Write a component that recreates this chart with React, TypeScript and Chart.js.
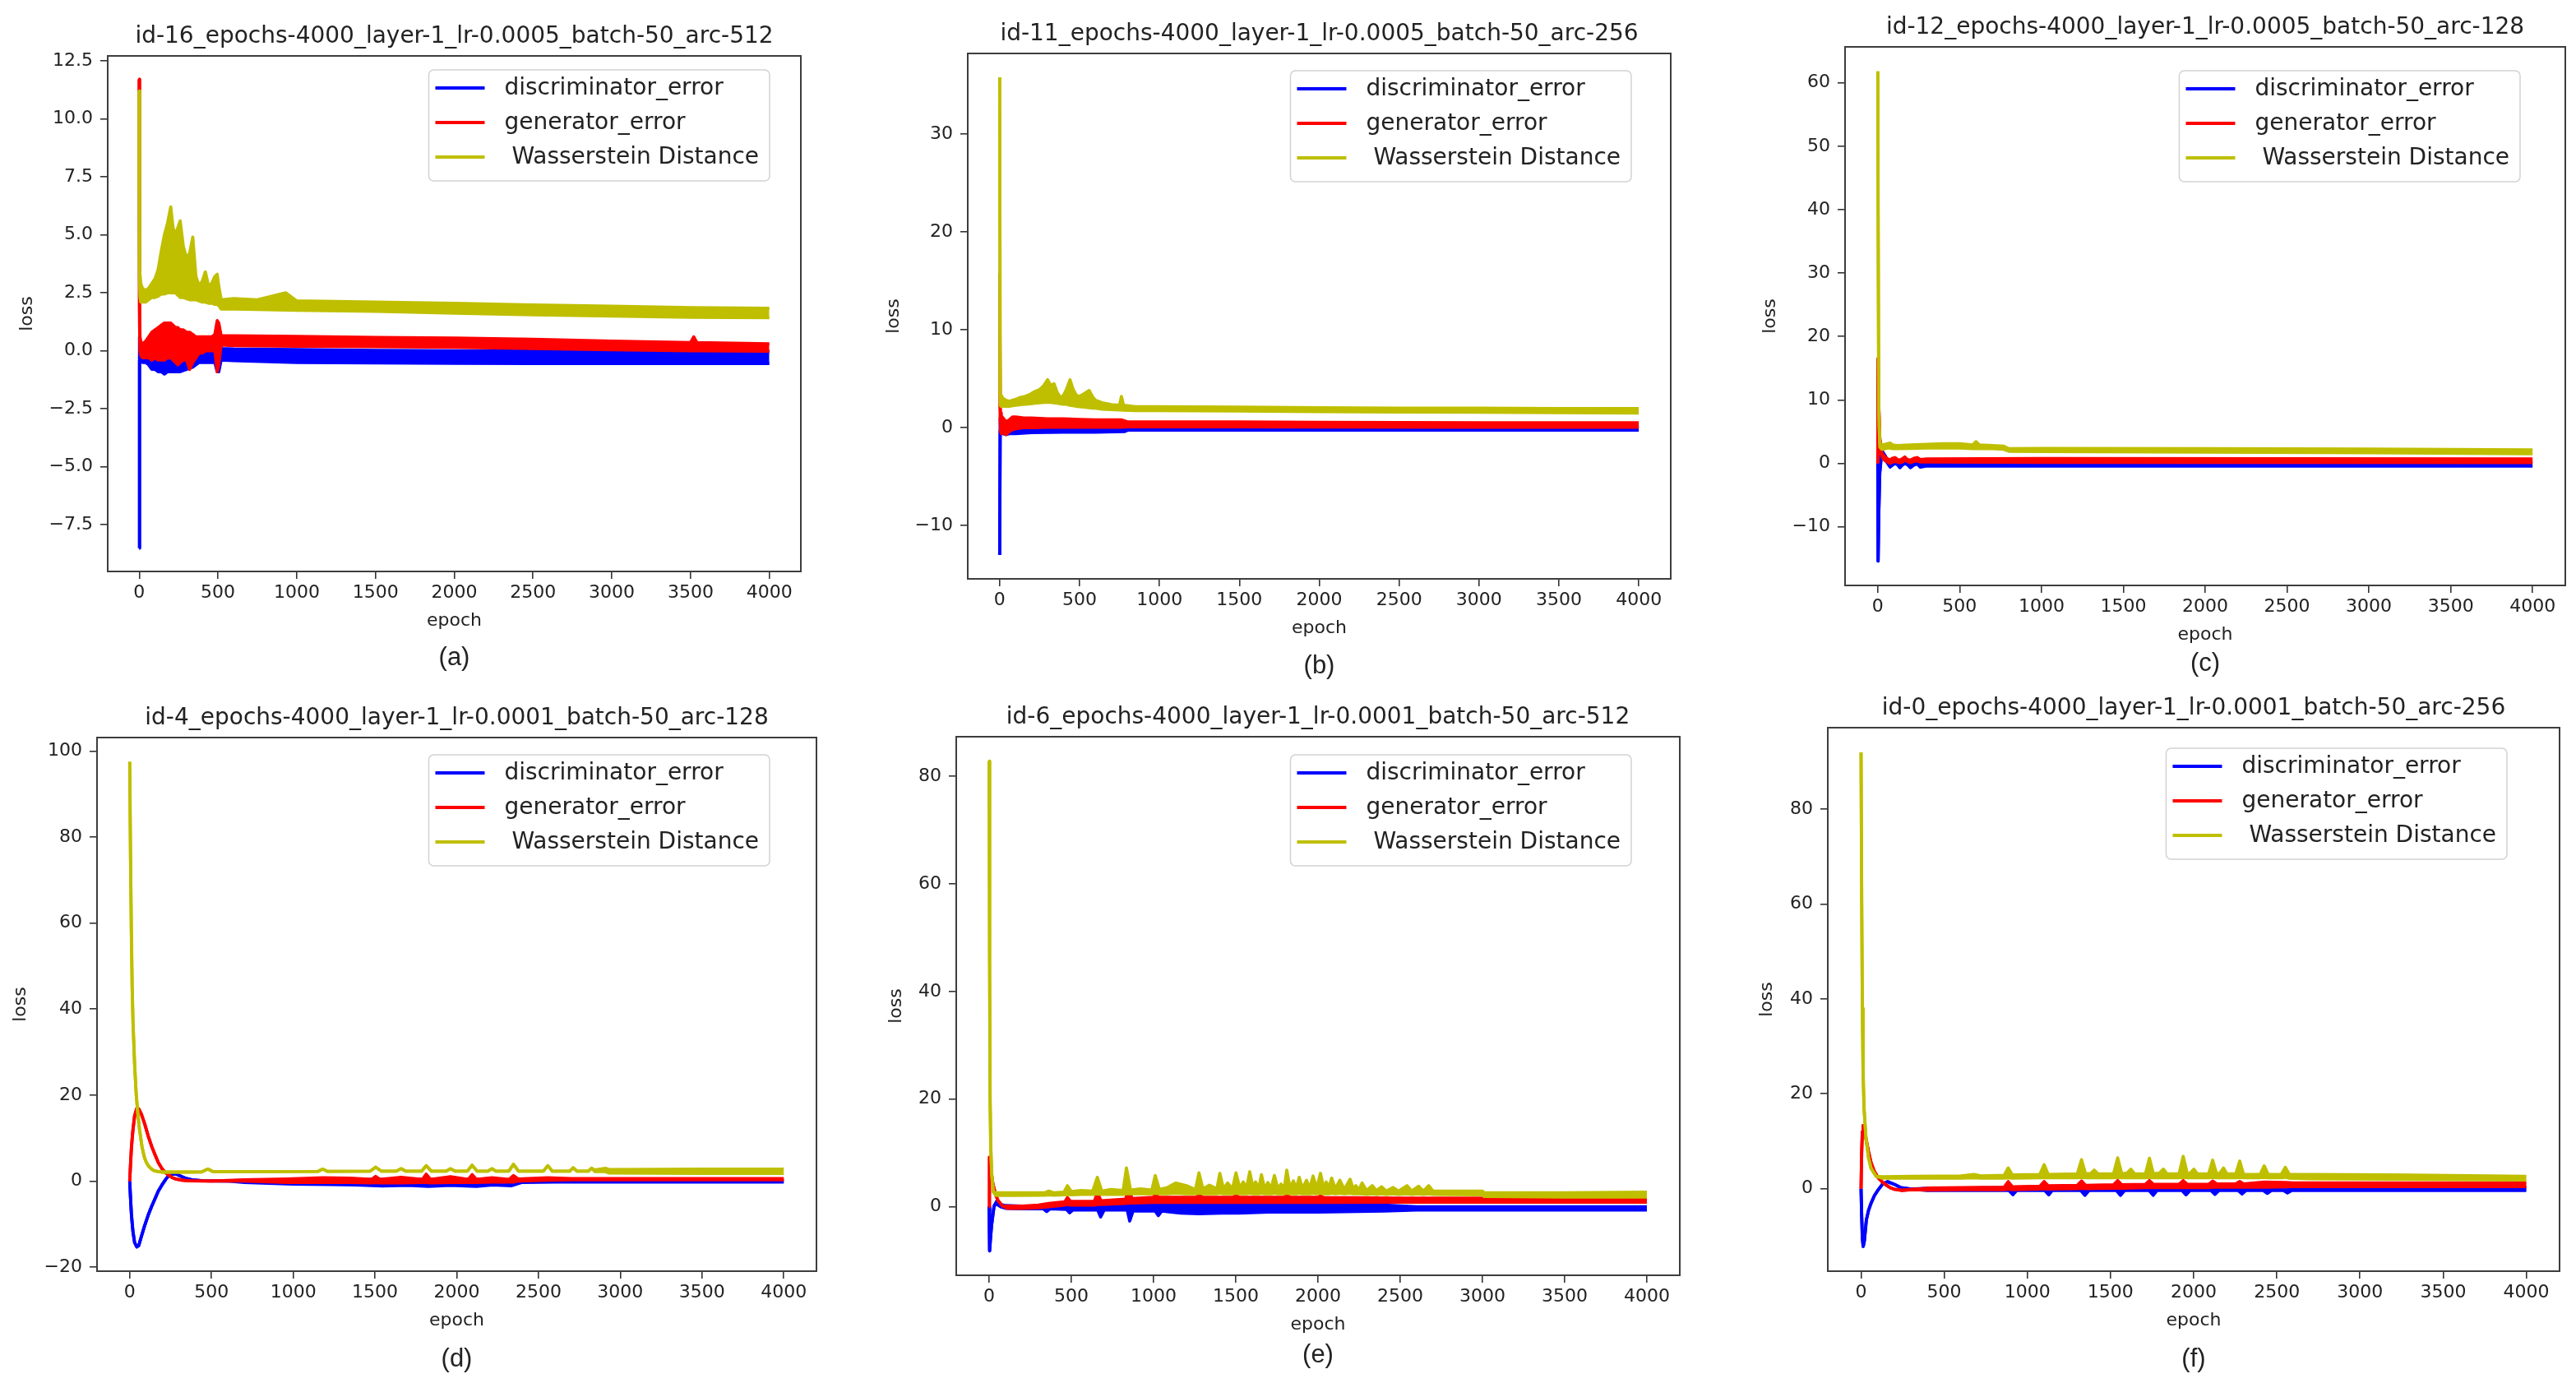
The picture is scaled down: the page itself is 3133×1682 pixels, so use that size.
import React, { useEffect, useRef } from "react";
import { Chart, registerables } from "chart.js";

Chart.register(...registerables);

// A sample is [epoch, value] on a clean stretch of a curve, or
// [epoch, low, high] where epoch-to-epoch noise spreads the curve into a band.
type Sample = number[];

const epochTicks = [0, 500, 1000, 1500, 2000, 2500, 3000, 3500, 4000];

const lossTicksA = [-7.5, -5, -2.5, 0, 2.5, 5, 7.5, 10, 12.5];
const lossTicksB = [-10, 0, 10, 20, 30];
const lossTicksC = [-10, 0, 10, 20, 30, 40, 50, 60];
const lossTicksD = [-20, 0, 20, 40, 60, 80, 100];
const lossTicksE = [0, 20, 40, 60, 80];
const lossTicksF = [0, 20, 40, 60, 80];

const seriesLabels = ["discriminator_error", "generator_error", " Wasserstein Distance"];

// ---- run id-16 (lr 0.0005, arc 512) ----
const discA: Sample[] = [
  [0, -8.5], [2, -0.4, 0.6], [5, -0.4, 0.4], [10, -0.4, 0.3], [20, -0.5, 0.2], [40, -0.5, 0.1],
  [60, -0.6, 0.2], [80, -0.8, 0.2], [100, -0.8, 0.3], [120, -0.9, 0.3], [140, -0.9, 0.4],
  [160, -1.0, 0.4], [180, -0.9, 0.5], [200, -0.9, 0.5], [230, -0.9, 0.4], [260, -0.9, 0.3],
  [300, -0.8, 0.3], [340, -0.7, 0.2], [380, -0.5, 0.15], [420, -0.5, 0.1], [480, -0.5, 0.2],
  [495, -0.9, 1.1], [505, -0.9, 0.8], [520, -0.4, 0.1], [600, -0.42, 0.08], [1000, -0.5, 0.05],
  [1500, -0.52, 0.02], [2000, -0.54, 0.0], [2500, -0.55, -0.01], [3000, -0.55, -0.01],
  [3500, -0.55, -0.02], [4000, -0.55, -0.03],
];
const genA: Sample[] = [
  [0, 11.7], [2, 1.2, 1.9], [5, 0.0, 0.6], [10, -0.2, 0.4], [20, -0.3, 0.3], [40, -0.3, 0.4],
  [60, -0.3, 0.6], [80, -0.4, 0.8], [100, -0.3, 0.9], [120, -0.4, 1.0], [140, -0.4, 1.1],
  [160, -0.4, 1.2], [180, -0.3, 1.2], [200, -0.3, 1.2], [215, -0.4, 1.1], [230, -0.5, 1.0],
  [245, -0.6, 1.0], [260, -0.5, 0.9], [280, -0.4, 0.9], [300, -0.4, 0.8], [320, -0.8, 0.8],
  [340, -0.5, 0.7], [360, -0.3, 0.6], [380, -0.1, 0.6], [400, -0.1, 0.6], [420, 0.0, 0.6],
  [460, 0.0, 0.6], [480, 0.0, 0.7], [495, -0.9, 1.3], [505, -0.6, 1.2], [520, 0.25, 0.65],
  [600, 0.22, 0.65], [1000, 0.2, 0.62], [1500, 0.18, 0.58], [2000, 0.15, 0.55], [2500, 0.1, 0.5],
  [3000, 0.05, 0.42], [3500, 0.0, 0.35], [3520, 0.0, 0.6], [3540, 0.0, 0.35], [4000, -0.02, 0.3],
];
const wassA: Sample[] = [
  [0, 11.2], [2, 3.0, 3.4], [5, 2.3, 3.3], [10, 2.1, 2.9], [20, 2.1, 2.7], [40, 2.1, 2.6],
  [60, 2.2, 2.7], [80, 2.3, 2.9], [100, 2.3, 3.1], [120, 2.35, 3.5], [140, 2.45, 4.3],
  [160, 2.45, 5.0], [180, 2.5, 5.5], [200, 2.5, 6.2], [215, 2.5, 5.3], [230, 2.5, 5.0],
  [245, 2.4, 5.3], [260, 2.3, 5.6], [280, 2.3, 4.5], [300, 2.25, 4.0], [320, 2.2, 4.2],
  [340, 2.2, 4.9], [360, 2.2, 3.2], [380, 2.15, 2.8], [400, 2.1, 3.0], [420, 2.1, 3.4],
  [440, 2.05, 2.8], [460, 2.05, 2.9], [480, 2.0, 3.2], [495, 2.0, 3.3], [505, 1.95, 2.8],
  [520, 1.8, 2.2], [600, 1.8, 2.25], [750, 1.78, 2.2], [930, 1.76, 2.5], [1000, 1.75, 2.15],
  [1500, 1.7, 2.1], [2000, 1.62, 2.05], [2500, 1.55, 1.98], [3000, 1.5, 1.92], [3500, 1.45, 1.86],
  [4000, 1.43, 1.83],
];

// ---- run id-11 (lr 0.0005, arc 256) ----
const discB: Sample[] = [
  [0, -13.0], [3, -0.3, 1.0], [6, -0.6, 0.9], [10, -0.6, 0.7], [20, -0.6, 0.5], [40, -0.7, 0.3],
  [60, -0.6, 0.2], [100, -0.6, 0.2], [200, -0.5, 0.2], [400, -0.45, 0.2], [600, -0.45, 0.2],
  [780, -0.4, 0.2], [800, -0.25, 0.15], [2000, -0.25, 0.12], [4000, -0.25, 0.1],
];
const genB: Sample[] = [
  [0, 15.7], [3, 0.8, 2.0], [6, -0.4, 1.5], [10, -0.6, 1.2], [20, -0.5, 1.0], [40, -0.7, 0.6],
  [60, -0.4, 0.8], [80, -0.2, 1.1], [100, -0.1, 1.1], [150, 0.0, 1.0], [200, 0.0, 1.0],
  [300, 0.05, 0.9], [400, 0.05, 0.9], [500, 0.05, 0.85], [600, 0.05, 0.8], [760, 0.05, 0.8],
  [800, 0.1, 0.6], [1500, 0.1, 0.6], [2000, 0.08, 0.55], [3000, 0.05, 0.5], [4000, 0.05, 0.5],
];
const wassB: Sample[] = [
  [0, 35.8], [3, 2.5, 3.5], [6, 2.2, 3.0], [10, 2.2, 3.3], [20, 2.2, 3.0], [40, 2.2, 2.8],
  [60, 2.2, 2.7], [80, 2.25, 2.8], [100, 2.3, 2.9], [130, 2.35, 3.1], [160, 2.4, 3.2],
  [190, 2.45, 3.4], [220, 2.5, 3.7], [250, 2.55, 3.9], [275, 2.6, 4.3], [300, 2.6, 4.9],
  [320, 2.6, 4.3], [340, 2.55, 4.5], [360, 2.5, 3.6], [380, 2.45, 3.1], [400, 2.4, 3.3],
  [420, 2.4, 4.0], [440, 2.3, 4.9], [460, 2.25, 3.9], [480, 2.2, 3.3], [500, 2.15, 3.2],
  [530, 2.1, 3.5], [560, 2.05, 3.8], [580, 2.0, 3.2], [600, 2.0, 2.8], [640, 1.9, 2.55],
  [700, 1.85, 2.35], [750, 1.82, 2.3], [762, 1.82, 3.2], [775, 1.8, 2.3], [850, 1.75, 2.15],
  [1000, 1.75, 2.15], [1500, 1.7, 2.1], [2000, 1.65, 2.05], [2500, 1.6, 2.0], [3000, 1.58, 2.0],
  [3500, 1.55, 1.95], [4000, 1.5, 1.95],
];

// ---- run id-12 (lr 0.0005, arc 128) ----
const discC: Sample[] = [
  [0, 0], [2, -15.4], [6, -8], [12, -1.5], [20, 0.5, 1.2], [30, 1.2, 1.8], [45, 0.6, 1.2],
  [60, 0.0, 0.4], [75, -0.6, -0.1], [90, -0.3, 0.3], [105, 0.0, 0.3], [120, -0.2, 0.2],
  [135, -0.7, -0.1], [150, -0.3, 0.2], [165, 0.0, 0.3], [180, -0.2, 0.1], [200, -0.7, -0.1],
  [220, -0.3, 0.2], [240, -0.1, 0.2], [260, -0.6, 0.0], [300, -0.4, 0.1], [1000, -0.45, 0.2],
  [4000, -0.45, 0.2],
];
const genC: Sample[] = [
  [0, 0], [2, 16.5], [6, 9], [12, 4], [20, 1.5, 2.0], [30, 0.8, 1.4], [45, 0.4, 1.0],
  [60, 0.2, 0.7], [75, 0.0, 0.5], [90, 0.2, 0.8], [105, 0.3, 0.9], [120, 0.2, 0.6],
  [135, 0.1, 0.5], [150, 0.2, 0.7], [165, 0.5, 1.0], [180, 0.3, 0.6], [200, 0.1, 0.5],
  [220, 0.3, 0.8], [240, 0.4, 0.9], [260, 0.2, 0.6], [300, 0.2, 0.7], [1000, 0.15, 0.75],
  [4000, 0.1, 0.7],
];
const wassC: Sample[] = [
  [0, 61.8], [2, 40], [6, 8], [12, 2.6, 3.2], [20, 2.3, 3.0], [30, 2.2, 2.9], [45, 2.3, 3.0],
  [60, 2.4, 3.1], [75, 2.4, 3.2], [90, 2.3, 2.9], [120, 2.3, 2.8], [200, 2.35, 2.9],
  [300, 2.4, 3.0], [400, 2.4, 3.1], [500, 2.4, 3.1], [580, 2.3, 2.9], [600, 2.3, 3.4],
  [620, 2.3, 2.9], [700, 2.3, 2.8], [770, 2.2, 2.7], [800, 1.9, 2.3], [1000, 1.85, 2.35],
  [2000, 1.75, 2.3], [3000, 1.65, 2.25], [4000, 1.5, 2.1],
];

// ---- run id-4 (lr 0.0001, arc 128) ----
const discD: Sample[] = [
  [0, 0], [5, -4], [10, -7.5], [15, -9.8], [20, -11.8], [30, -14.3], [43, -15.3], [55, -15],
  [71, -12.9], [90, -10.5], [113, -7.9], [135, -5.8], [155, -4.05], [175, -2.3], [197, -0.9],
  [220, 0.4], [240, 1.35], [260, 1.65], [282, 1.66], [310, 1.2], [338, 0.7], [380, 0.3],
  [450, 0.08], [600, 0.0], [700, -0.3, 0.2], [1000, -0.7, 0.3], [1223, -0.8, 0.4],
  [1380, -0.9, 0.4], [1546, -1.1, 0.4], [1700, -1.0, 0.4], [1827, -1.2, 0.4], [1962, -1.0, 0.4],
  [2120, -1.2, 0.4], [2220, -0.9, 0.3], [2333, -1.1, 0.3], [2400, -0.3, 0.2], [2600, -0.2, 0.1],
  [4000, -0.2, 0.1],
];
const genD: Sample[] = [
  [0, 0], [5, 4], [10, 7.5], [15, 9.9], [20, 12], [30, 15.2], [43, 16.9], [55, 16.8],
  [71, 15.6], [90, 13.5], [113, 10.5], [135, 8], [155, 6.1], [175, 4.3], [197, 2.9], [220, 1.9],
  [240, 1.35], [260, 0.8], [282, 0.5], [320, 0.2], [366, 0.05], [500, 0.0], [700, 0.0, 0.3],
  [960, -0.3, 0.5], [1181, -0.3, 0.8], [1350, -0.3, 0.7], [1480, -0.4, 0.4], [1504, -0.3, 1.1],
  [1530, -0.4, 0.4], [1659, -0.4, 0.9], [1790, -0.3, 0.4], [1813, -0.3, 1.6], [1840, -0.4, 0.4],
  [1962, -0.3, 1.0], [2070, -0.3, 0.4], [2094, -0.3, 1.5], [2120, -0.3, 0.4], [2215, -0.2, 0.8],
  [2320, -0.2, 0.4], [2347, -0.2, 1.3], [2375, 0.0, 0.5], [2557, 0.2, 0.8], [2700, 0.3, 0.6],
  [4000, 0.3, 0.6],
];
const wassD: Sample[] = [
  [0, 97.5], [5, 75], [10, 58], [15, 45], [20, 37], [30, 27], [40, 20], [50, 15.5], [60, 12],
  [75, 8], [90, 5.5], [100, 4.5], [115, 3.5], [130, 2.9], [150, 2.4], [175, 2.2], [200, 2.1],
  [300, 2.1], [440, 2.15], [478, 2.8], [510, 2.2], [800, 2.2], [1150, 2.25], [1181, 2.8],
  [1210, 2.25], [1470, 2.3], [1504, 3.25], [1540, 2.3], [1630, 2.3], [1659, 2.9], [1690, 2.3],
  [1785, 2.3], [1813, 3.6], [1845, 2.3], [1935, 2.3], [1962, 2.9], [1990, 2.3], [2065, 2.3],
  [2094, 3.7], [2125, 2.3], [2190, 2.3], [2215, 2.9], [2240, 2.3], [2318, 2.3], [2347, 3.9],
  [2378, 2.3], [2530, 2.3], [2557, 3.6], [2585, 2.3], [2690, 2.3], [2712, 3.1], [2735, 2.3],
  [2805, 2.3], [2824, 3.0], [2845, 2.2, 2.6], [2909, 2.2, 3.0], [2930, 1.9, 2.7],
  [3500, 1.8, 2.8], [4000, 1.8, 2.8],
];

// ---- run id-6 (lr 0.0001, arc 512) ----
const discE: Sample[] = [
  [0, 0], [3, -8.2], [8, -6], [15, -3.4], [30, 0.13], [45, 0.5, 1.0], [70, 0.0, 0.4],
  [100, -0.3, 0.2], [200, -0.4, 0.1], [330, -0.4, 0.1], [350, -0.9, 0.1], [370, -0.4, 0.2],
  [470, -0.5, 0.3], [489, -1.14, 0.3], [510, -0.6, 0.4], [660, -0.6, 0.6], [678, -1.9, 0.5],
  [700, -0.6, 0.6], [840, -0.6, 0.8], [855, -2.66, 0.8], [875, -0.8, 0.9], [1010, -0.8, 0.8],
  [1029, -1.65, 0.8], [1050, -0.8, 0.8], [1164, -1.2, 0.7], [1276, -1.3, 0.7], [1417, -1.2, 0.7],
  [1515, -1.2, 0.7], [1700, -1.0, 0.6], [2000, -1.0, 0.5], [2400, -0.8, 0.3], [2600, -0.63, 0.0],
  [4000, -0.63, 0.0],
];
const genE: Sample[] = [
  [0, 0], [2, 9.2], [10, 7], [23, 4.2], [40, 2.2], [54, 1.14], [82, 0.13], [110, -0.3, 0.1],
  [200, -0.3, 0.1], [300, -0.2, 0.3], [363, 0.0, 0.6], [460, 0.3, 0.9], [476, 0.4, 1.7],
  [495, 0.3, 1.0], [640, 0.3, 1.0], [658, 0.4, 2.66], [680, 0.4, 1.1], [830, 0.6, 1.4],
  [846, 0.7, 3.4], [870, 0.7, 1.5], [1000, 0.8, 1.75], [1010, 0.8, 2.4], [1030, 0.8, 1.75],
  [1260, 0.8, 1.75], [1276, 0.8, 2.2], [1300, 0.8, 1.75], [1485, 0.8, 1.75], [1501, 0.8, 2.2],
  [1520, 0.8, 1.75], [1795, 0.8, 1.75], [1810, 0.8, 2.2], [1830, 0.8, 1.75], [2000, 0.8, 1.75],
  [2015, 0.8, 2.0], [2035, 0.8, 1.7], [2500, 0.84, 1.6], [4000, 0.84, 1.55],
];
const wassE: Sample[] = [
  [0, 82.8], [3, 45], [6, 20], [10, 11], [16, 6], [25, 2.8], [40, 2.1, 2.6], [150, 2.1, 2.6],
  [340, 2.15, 2.6], [363, 2.2, 2.9], [390, 2.15, 2.6], [455, 2.2, 2.7], [476, 2.3, 3.9],
  [500, 2.2, 2.8], [560, 2.3, 3.0], [630, 2.3, 2.9], [658, 2.4, 5.45], [685, 2.3, 2.9],
  [740, 2.3, 3.2], [815, 2.3, 3.0], [835, 2.4, 7.2], [860, 2.4, 3.1], [920, 2.4, 3.3],
  [990, 2.4, 3.1], [1010, 2.5, 5.8], [1035, 2.4, 3.2], [1080, 2.4, 3.5], [1136, 2.5, 4.4],
  [1200, 2.4, 3.9], [1255, 2.4, 3.2], [1276, 2.5, 6.3], [1300, 2.4, 3.3], [1340, 2.4, 4.0],
  [1385, 2.4, 3.3], [1403, 2.5, 6.2], [1425, 2.4, 3.3], [1450, 2.4, 4.4], [1480, 2.4, 3.3],
  [1501, 2.5, 6.3], [1525, 2.4, 3.4], [1545, 2.4, 4.6], [1565, 2.4, 3.4], [1585, 2.5, 6.5],
  [1605, 2.4, 3.4], [1620, 2.4, 4.6], [1640, 2.4, 3.4], [1656, 2.5, 5.95], [1675, 2.4, 3.4],
  [1695, 2.4, 4.5], [1715, 2.4, 3.4], [1735, 2.5, 5.8], [1755, 2.4, 3.4], [1775, 2.4, 4.2],
  [1795, 2.4, 3.4], [1810, 2.5, 6.8], [1830, 2.4, 3.4], [1850, 2.4, 4.8], [1868, 2.4, 3.4],
  [1886, 2.5, 5.45], [1905, 2.4, 3.4], [1930, 2.4, 4.9], [1950, 2.4, 3.4], [1970, 2.5, 5.7],
  [1992, 2.4, 3.4], [2015, 2.5, 6.2], [2035, 2.4, 3.4], [2050, 2.4, 4.6], [2065, 2.4, 3.4],
  [2083, 2.5, 5.3], [2105, 2.4, 3.3], [2133, 2.5, 4.9], [2160, 2.4, 3.2], [2195, 2.5, 5.1],
  [2215, 2.4, 3.2], [2230, 2.4, 3.9], [2248, 2.4, 3.1], [2268, 2.4, 4.4], [2295, 2.3, 3.0],
  [2330, 2.4, 3.9], [2355, 2.3, 3.0], [2387, 2.4, 3.7], [2415, 2.3, 2.9], [2457, 2.4, 3.57],
  [2490, 2.3, 2.9], [2541, 2.4, 3.9], [2570, 2.3, 2.9], [2611, 2.4, 3.8], [2640, 2.3, 2.9],
  [2673, 2.4, 3.9], [2700, 2.3, 2.9], [3000, 2.2, 2.9], [3010, 1.9, 2.6], [3500, 1.8, 2.6],
  [4000, 1.8, 2.7],
];

// ---- run id-0 (lr 0.0001, arc 256) ----
const discF: Sample[] = [
  [0, 0], [4, -6], [8, -10.5], [13, -12.2], [20, -11], [32, -6.6], [45, -4.6], [60, -3.1],
  [80, -1.5], [103, -0.25], [130, 1.0], [159, 1.47], [201, 0.9], [240, 0.2], [300, -0.1],
  [400, -0.4, 0.1], [600, -0.4, 0.1], [890, -0.4, 0.2], [913, -1.3, 0.2], [935, -0.4, 0.3],
  [1105, -0.4, 0.3], [1129, -1.3, 0.3], [1150, -0.4, 0.3], [1322, -0.4, 0.3], [1346, -1.4, 0.3],
  [1370, -0.4, 0.3], [1536, -0.4, 0.4], [1560, -1.4, 0.4], [1584, -0.4, 0.4], [1733, -0.4, 0.4],
  [1757, -1.4, 0.4], [1780, -0.4, 0.4], [1930, -0.4, 0.4], [1954, -1.3, 0.4], [1978, -0.4, 0.4],
  [2104, -0.4, 0.4], [2128, -1.2, 0.4], [2152, -0.4, 0.4], [2267, -0.4, 0.3], [2291, -1.1, 0.3],
  [2315, -0.4, 0.3], [2419, -0.4, 0.3], [2443, -1.0, 0.3], [2467, -0.4, 0.3], [2540, -0.4, 0.3],
  [2564, -0.9, 0.3], [2590, -0.4, 0.3], [4000, -0.4, 0.3],
];
const genF: Sample[] = [
  [0, 0], [4, 8], [8, 12], [12, 13.3], [20, 12.5], [32, 10.1], [45, 7.8], [60, 5.5], [80, 3.6],
  [103, 2.3], [125, 1.5], [145, 0.9], [175, 0.2], [201, -0.13], [243, -0.37], [300, -0.2],
  [400, -0.3, 0.1], [600, -0.2, 0.2], [860, -0.2, 0.3], [885, -0.1, 1.47], [910, -0.2, 0.4],
  [1075, -0.1, 0.5], [1101, 0.0, 1.5], [1125, -0.1, 0.6], [1300, 0.0, 0.7], [1326, 0.1, 1.6],
  [1350, 0.0, 0.7], [1518, 0.1, 0.8], [1543, 0.1, 1.7], [1568, 0.1, 0.8], [1710, 0.2, 0.9],
  [1734, 0.2, 1.7], [1758, 0.2, 0.9], [1912, 0.2, 0.9], [1937, 0.2, 1.7], [1962, 0.2, 0.9],
  [2090, 0.2, 0.9], [2114, 0.3, 1.6], [2138, 0.3, 1.0], [2253, 0.3, 1.0], [2277, 0.3, 1.5],
  [2300, 0.3, 1.0], [2424, 0.3, 1.4], [2551, 0.4, 1.3], [2600, 0.44, 1.2], [4000, 0.44, 1.2],
];
const wassF: Sample[] = [
  [0, 92], [4, 60], [8, 38], [12, 25], [18, 17], [30, 10.5], [45, 6.5], [60, 4.3], [90, 2.6],
  [130, 2.2, 2.5], [300, 2.2, 2.6], [600, 2.2, 2.7], [680, 2.3, 3.0], [720, 2.2, 2.7],
  [860, 2.2, 2.8], [885, 2.3, 4.35], [910, 2.2, 2.9], [1075, 2.3, 3.0], [1101, 2.3, 5.05],
  [1125, 2.3, 3.0], [1300, 2.3, 3.1], [1326, 2.4, 6.1], [1350, 2.3, 3.1], [1380, 2.3, 3.2],
  [1402, 2.3, 3.9], [1425, 2.3, 3.1], [1518, 2.3, 3.1], [1543, 2.4, 6.5], [1568, 2.3, 3.1],
  [1600, 2.3, 3.3], [1622, 2.3, 4.1], [1645, 2.3, 3.1], [1710, 2.3, 3.1], [1734, 2.4, 6.4],
  [1758, 2.3, 3.1], [1795, 2.3, 3.3], [1818, 2.3, 4.1], [1840, 2.3, 3.1], [1912, 2.3, 3.1],
  [1937, 2.4, 6.8], [1962, 2.3, 3.1], [1980, 2.3, 3.3], [2001, 2.3, 4.1], [2022, 2.3, 3.1],
  [2090, 2.3, 3.1], [2114, 2.4, 6.0], [2138, 2.3, 3.1], [2158, 2.3, 3.3], [2179, 2.3, 4.35],
  [2200, 2.3, 3.1], [2253, 2.3, 3.1], [2277, 2.4, 5.8], [2300, 2.3, 3.0], [2400, 2.3, 3.0],
  [2424, 2.4, 4.8], [2448, 2.3, 3.0], [2527, 2.3, 3.0], [2551, 2.4, 4.5], [2575, 2.2, 3.0],
  [2700, 2.1, 3.0], [3200, 2.0, 2.9], [4000, 1.8, 2.6],
];

interface PanelSpec {
  title: string;
  caption: string;
  box: [number, number, number, number]; // plot frame: left, top, right, bottom (page px)
  yTicks: number[];
  decimals: number;
  series: Sample[][]; // discriminator, generator, Wasserstein
  yAxisW: number;
  legendInset: [number, number];
  captionGap: number;
}

const panels: PanelSpec[] = [
  { title: "id-16_epochs-4000_layer-1_lr-0.0005_batch-50_arc-512", caption: "(a)", box: [131, 68, 974, 695], yTicks: lossTicksA, decimals: 1, series: [discA, genA, wassA], yAxisW: 111, legendInset: [38, 17], captionGap: 105 },
  { title: "id-11_epochs-4000_layer-1_lr-0.0005_batch-50_arc-256", caption: "(b)", box: [1177, 65, 2032, 704], yTicks: lossTicksB, decimals: 0, series: [discB, genB, wassB], yAxisW: 103, legendInset: [48, 21], captionGap: 106 },
  { title: "id-12_epochs-4000_layer-1_lr-0.0005_batch-50_arc-128", caption: "(c)", box: [2244, 57, 3120, 712], yTicks: lossTicksC, decimals: 0, series: [discC, genC, wassC], yAxisW: 104, legendInset: [55, 29], captionGap: 95 },
  { title: "id-4_epochs-4000_layer-1_lr-0.0001_batch-50_arc-128", caption: "(d)", box: [118, 897, 993, 1546], yTicks: lossTicksD, decimals: 0, series: [discD, genD, wassD], yAxisW: 106, legendInset: [57, 21], captionGap: 107 },
  { title: "id-6_epochs-4000_layer-1_lr-0.0001_batch-50_arc-512", caption: "(e)", box: [1163, 896, 2043, 1551], yTicks: lossTicksE, decimals: 0, series: [discE, genE, wassE], yAxisW: 86, legendInset: [59, 22], captionGap: 97 },
  { title: "id-0_epochs-4000_layer-1_lr-0.0001_batch-50_arc-256", caption: "(f)", box: [2223, 885, 3113, 1546], yTicks: lossTicksF, decimals: 0, series: [discF, genF, wassF], yAxisW: 87, legendInset: [64, 25], captionGap: 107 },
];

const LINE_COLORS = ["#0000ff", "#ff0000", "#bfbf00"];
const FONT = '"DejaVu Sans", sans-serif';
const TEXT = "#222222";
const TOP_SPACE = 70;
const RIGHT_SPACE = 12;
const X_AXIS_H = 73;
const BOTTOM_SPACE = 70;

function fmtLoss(v: number, decimals: number) {
  const s = Math.abs(v).toFixed(decimals);
  return v < 0 ? "\u2212" + s : s;
}

// Frame, legend box, panel title and caption, all placed relative to the plot area.
const panelDecor = {
  id: "panelDecor",
  afterDatasetsDraw(chart: any, _args: any, opts: any) {
    const { ctx, chartArea: a } = chart;
    ctx.save();
    ctx.strokeStyle = "#3d3d3d";
    ctx.lineWidth = 2;
    ctx.strokeRect(a.left, a.top, a.right - a.left, a.bottom - a.top);

    ctx.font = `28px ${FONT}`;
    const labels: string[] = opts.labels;
    const textW = Math.max(...labels.map((l) => ctx.measureText(l).width));
    const padL = 8, handle = 60, gap = 24, padR = 13, rowH = 42, padT = 22, padB = 29;
    const w = padL + handle + gap + textW + padR;
    const h = padT + rowH * (labels.length - 1) + padB;
    const x = a.right - opts.legendInset[0] - w;
    const y = a.top + opts.legendInset[1];
    ctx.beginPath();
    ctx.roundRect(x, y, w, h, 6);
    ctx.fillStyle = "rgba(255,255,255,0.85)";
    ctx.fill();
    ctx.strokeStyle = "#d2d2d2";
    ctx.lineWidth = 1.5;
    ctx.stroke();
    labels.forEach((label, i) => {
      const cy = y + padT + i * rowH;
      ctx.strokeStyle = opts.colors[i];
      ctx.lineWidth = 4;
      ctx.beginPath();
      ctx.moveTo(x + padL, cy);
      ctx.lineTo(x + padL + handle, cy);
      ctx.stroke();
      ctx.fillStyle = TEXT;
      ctx.textAlign = "left";
      ctx.textBaseline = "middle";
      ctx.fillText(label, x + padL + handle + gap, cy + 1);
    });

    const cx = (a.left + a.right) / 2;
    ctx.fillStyle = TEXT;
    ctx.textAlign = "center";
    ctx.textBaseline = "alphabetic";
    ctx.fillText(opts.title, cx, a.top - 16);
    ctx.font = `31px "Liberation Sans", sans-serif`;
    ctx.textBaseline = "middle";
    ctx.fillText(opts.caption, cx, a.bottom + opts.captionGap);
    ctx.restore();
  },
};

function Panel({ p }: { p: PanelSpec }) {
  const ref = useRef<HTMLCanvasElement>(null);
  const [L, T, R, B] = p.box;
  const width = p.yAxisW + (R - L) + RIGHT_SPACE;
  const height = TOP_SPACE + (B - T) + X_AXIS_H + BOTTOM_SPACE;

  useEffect(() => {
    if (!ref.current) return;
    let lo = Infinity;
    let hi = -Infinity;
    p.series.forEach((s) =>
      s.forEach((pt) =>
        pt.slice(1).forEach((v) => {
          lo = Math.min(lo, v);
          hi = Math.max(hi, v);
        })
      )
    );
    const margin = (hi - lo) * 0.05;

    const datasets: any[] = [];
    p.series.forEach((s, i) => {
      const color = LINE_COLORS[i];
      const common = {
        label: seriesLabels[i],
        borderColor: color,
        backgroundColor: color,
        borderWidth: 3.8,
        pointRadius: 0,
        tension: 0,
        borderJoinStyle: "round",
        order: 2 - i,
      };
      datasets.push({ ...common, data: s.map((pt) => ({ x: pt[0], y: pt[pt.length - 1] })), fill: false });
      datasets.push({ ...common, data: s.map((pt) => ({ x: pt[0], y: pt[1] })), fill: "-1" });
    });

    const tickFont = { family: FONT, size: 22 };
    const grid = {
      display: true,
      drawOnChartArea: false,
      drawTicks: true,
      tickLength: 9,
      tickColor: "#333333",
      tickWidth: 1.6,
      color: "#333333",
      lineWidth: 1.6,
    };

    const chart = new Chart(ref.current, {
      type: "line",
      data: { datasets },
      plugins: [panelDecor],
      options: {
        responsive: false,
        animation: false,
        devicePixelRatio: 1,
        events: [],
        layout: {
          autoPadding: false,
          padding: { left: 0, top: TOP_SPACE, right: RIGHT_SPACE, bottom: BOTTOM_SPACE },
        },
        plugins: {
          legend: { display: false },
          tooltip: { enabled: false },
          panelDecor: {
            labels: seriesLabels,
            colors: LINE_COLORS,
            legendInset: p.legendInset,
            title: p.title,
            caption: p.caption,
            captionGap: p.captionGap,
          },
        } as any,
        scales: {
          x: {
            type: "linear",
            min: -200,
            max: 4200,
            afterFit: (s: any) => {
              s.height = X_AXIS_H;
            },
            afterBuildTicks: (s: any) => {
              s.ticks = epochTicks.map((v) => ({ value: v }));
            },
            ticks: { font: tickFont, color: TEXT, padding: 4, autoSkip: false, maxRotation: 0, minRotation: 0, callback: (v: any) => String(v) },
            grid,
            border: { display: false },
            title: { display: true, text: "epoch", font: tickFont, color: TEXT, padding: 0 },
          },
          y: {
            type: "linear",
            min: lo - margin,
            max: hi + margin,
            afterFit: (s: any) => {
              s.width = p.yAxisW;
            },
            afterBuildTicks: (s: any) => {
              s.ticks = p.yTicks.map((v) => ({ value: v }));
            },
            ticks: { font: tickFont, color: TEXT, padding: 9, callback: (v: any) => fmtLoss(Number(v), p.decimals) },
            grid,
            border: { display: false },
            title: { display: true, text: "loss", font: tickFont, color: TEXT, padding: 0 },
          },
        } as any,
      },
    } as any);
    return () => chart.destroy();
  }, []);

  return (
    <canvas
      ref={ref}
      width={width}
      height={height}
      style={{ position: "absolute", left: L - p.yAxisW, top: T - TOP_SPACE, width, height }}
    />
  );
}

export default function App() {
  return (
    <div style={{ position: "absolute", left: 0, top: 0, width: 3133, height: 1682, background: "#ffffff", overflow: "hidden" }}>
      {panels.map((p) => (
        <Panel key={p.caption} p={p} />
      ))}
    </div>
  );
}
